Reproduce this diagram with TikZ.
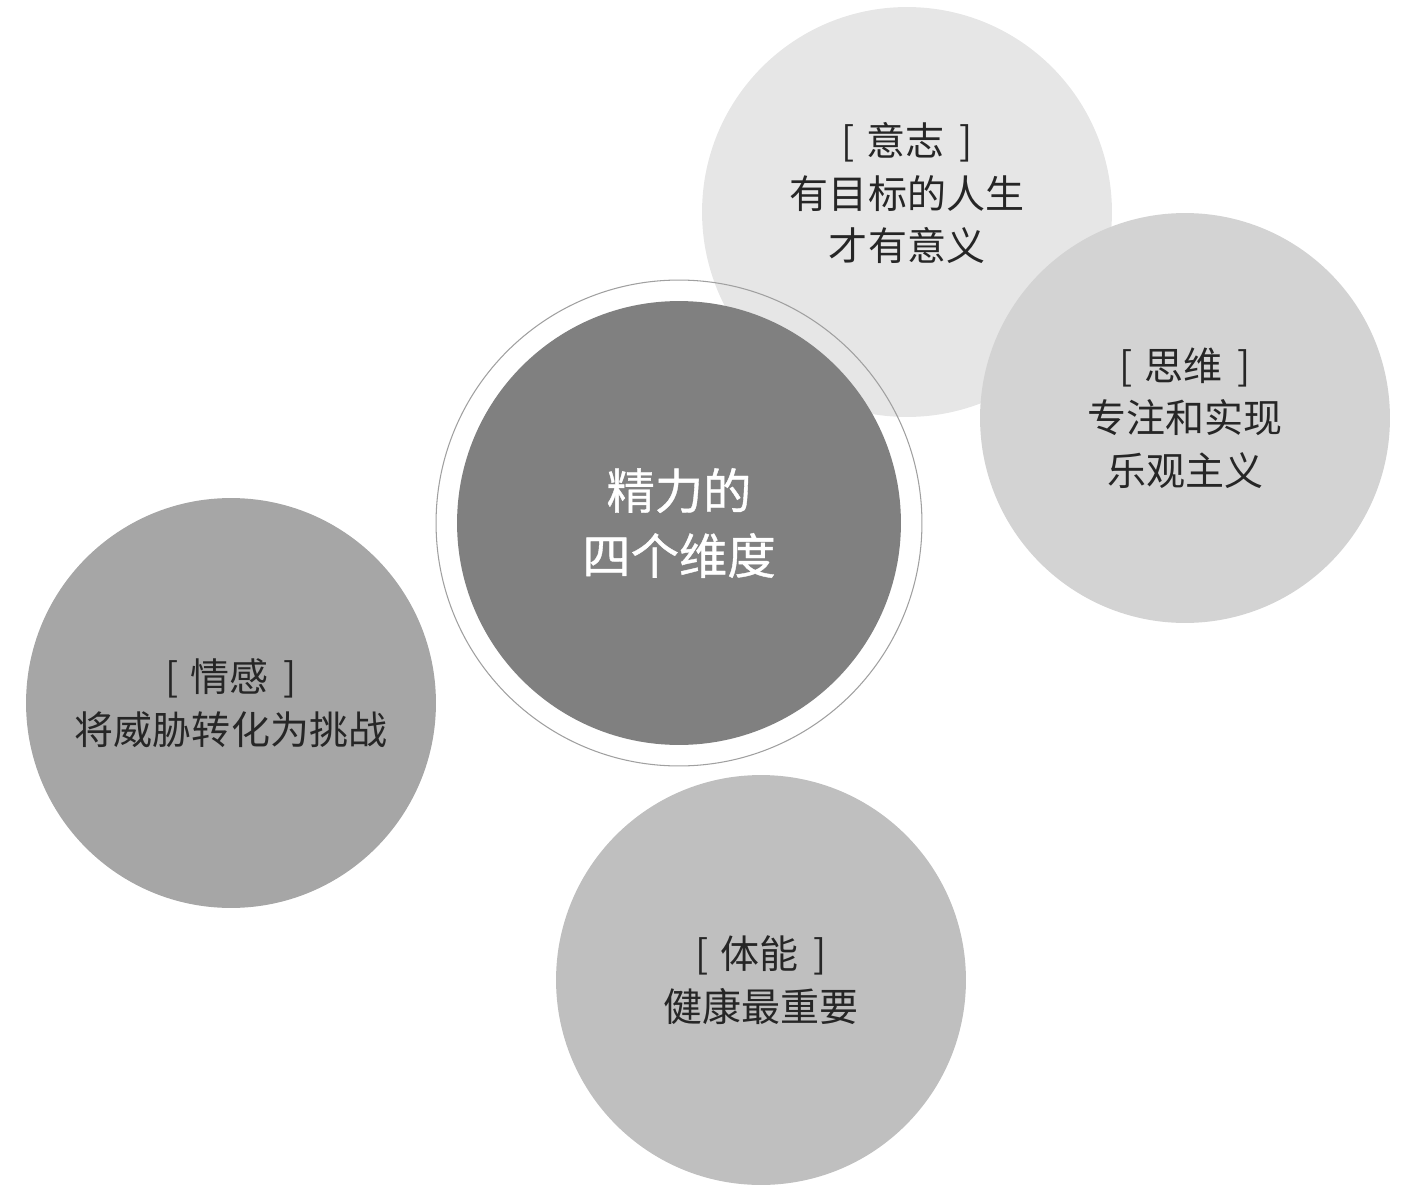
\documentclass[tikz,border=0pt]{standalone}
\usepackage{fontspec}
\newfontfamily\cjk{Noto Sans CJK SC}
\newfontfamily\cjkmid[FakeBold=0.8]{Noto Sans CJK SC}
\definecolor{willgray}{HTML}{E6E6E6}
\definecolor{mindgray}{HTML}{D3D3D3}
\definecolor{coregray}{HTML}{808080}
\definecolor{feelgray}{HTML}{A6A6A6}
\definecolor{bodygray}{HTML}{BFBFBF}
\definecolor{ringgray}{HTML}{A0A0A0}
\definecolor{textgray}{HTML}{262626}
\newcommand\dimhead[1]{[\hspace{1.5pt} #1\hspace{3.5pt} ]}
\tikzset{
  dimball/.style={circle,inner sep=0pt,draw=none,minimum size=8.2cm},
  dimtext/.style={align=center,text=textgray,font={\cjk\fontsize{22.2}{29.9}\selectfont}},
  coretext/.style={align=center,text=white,font={\cjkmid\fontsize{27.5}{37}\selectfont}}
}
\begin{document}
\begin{tikzpicture}[x=0.02cm,y=-0.02cm]
  \useasboundingbox (0,0) rectangle (1404,1190);
  % outer circles
  \node[dimball,fill=willgray] (will) at (907,212) {};
  \node[dimball,fill=mindgray] (mind) at (1185,418) {};
  \node[circle,inner sep=0pt,draw=ringgray,line width=0.6pt,minimum size=9.72cm] (ring) at (679,523) {};
  \node[dimball,fill=coregray,minimum size=8.88cm] (core) at (679,523) {};
  \node[dimball,fill=feelgray] (feel) at (231,703) {};
  \node[dimball,fill=bodygray] (body) at (761,980) {};
  % texts
  \node[dimtext] (willtext) at ([yshift=0.38cm]will.center) {\dimhead{意志}\\有目标的人生\\才有意义};
  \node[dimtext] (mindtext) at (mind.center) {\dimhead{思维}\\专注和实现\\乐观主义};
  \node[coretext] (coretitle) at (core.center) {精力的\\四个维度};
  \node[dimtext] (feeltext) at (feel.center) {\dimhead{情感}\\将威胁转化为挑战};
  \node[dimtext] (bodytext) at (body.center) {\dimhead{体能}\\健康最重要};
\end{tikzpicture}
\end{document}
